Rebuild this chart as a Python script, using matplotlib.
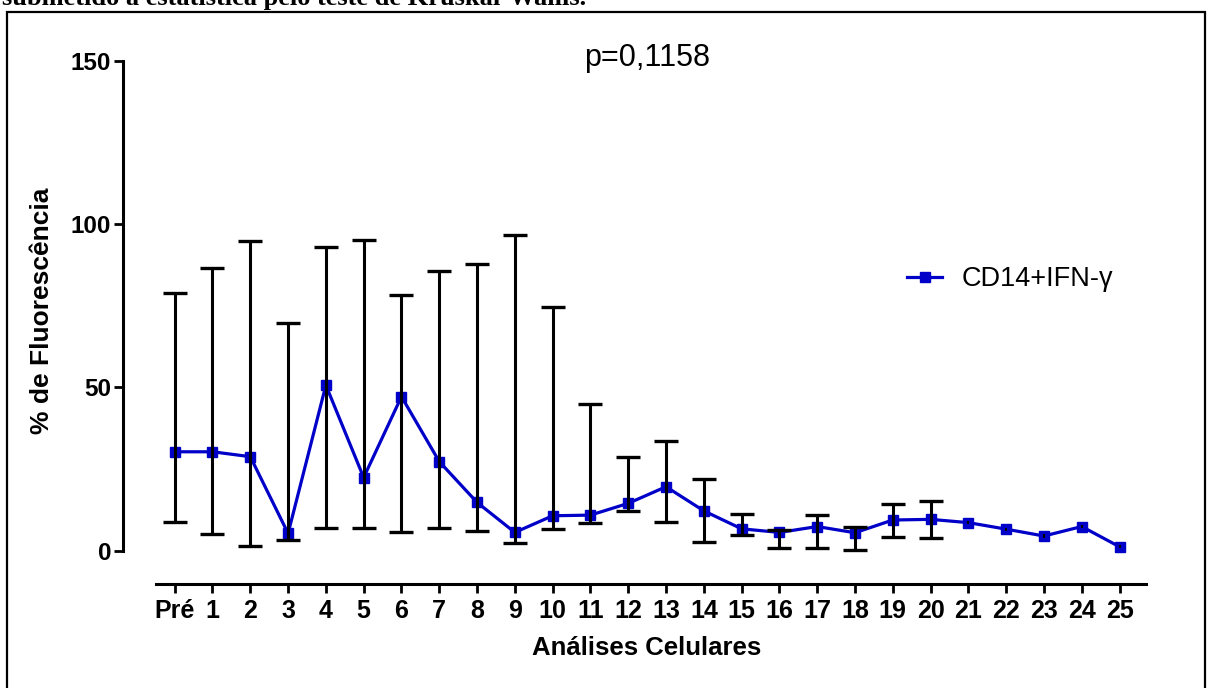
import numpy as np
import matplotlib
matplotlib.use('Agg')
import matplotlib.pyplot as plt
from matplotlib.patches import Rectangle

plt.rcParams['font.family'] = ['Liberation Sans', 'DejaVu Sans']

# dados
labels = ['Pré'] + [str(i) for i in range(1, 26)]
media = [30.3, 30.3, 28.8, 5.3, 50.7, 22.4, 47.2, 27.3, 14.8, 5.6, 10.7, 10.9, 14.5,
         19.6, 12.2, 6.7, 5.6, 7.4, 5.5, 9.4, 9.6, 8.6, 6.6, 4.5, 7.4, 1.2]
superior = [79.0, 86.7, 94.9, 69.8, 93.1, 95.2, 78.3, 85.7, 87.7, 96.8, 74.7, 44.9, 28.8,
            33.6, 21.9, 11.2, 6.4, 10.9, 7.4, 14.3, 15.3, 9.1, 7.1, 5.0, 7.9, 1.7]
inferior = [8.8, 5.2, 1.5, 3.4, 6.9, 7.0, 5.8, 6.9, 6.0, 2.4, 6.6, 8.6, 12.3,
            8.9, 2.7, 4.8, 0.9, 0.7, 0.2, 4.3, 3.8, 8.1, 6.1, 4.0, 6.9, 0.7]
serie = 'CD14+IFN-γ'
p_texto = 'p=0,1158'
legenda_topo = 'submetido à estatística pelo teste de Kruskal-Wallis.'

W, H = 1208, 688
fig = plt.figure(figsize=(W / 100, H / 100), dpi=100)

# eixo posicionado em pixels
x0, x1 = 123, 1146
y_top, y_bot = 61, 584
ax = fig.add_axes([x0 / W, 1 - y_bot / H, (x1 - x0) / W, (y_bot - y_top) / H])

x = np.arange(len(labels))
media = np.array(media)
superior = np.array(superior)
inferior = np.array(inferior)
azul = '#0000C8'

ax.plot(x, media, color=azul, lw=2.3, marker='s', ms=7.5, mec=azul, label=serie, zorder=3)
# barras grandes com cap, as pequenas (21-25) ficam dentro do marcador
big = (superior - inferior) > 2
ax.errorbar(x[big], media[big], yerr=[media[big] - inferior[big], superior[big] - media[big]],
            fmt='none', ecolor='black', elinewidth=2.2, capsize=8.5, capthick=2.4, zorder=4)
ax.errorbar(x[~big], media[~big], yerr=[media[~big] - inferior[~big], superior[~big] - media[~big]],
            fmt='none', ecolor='black', elinewidth=1.5, capsize=0, zorder=4)

ax.set_xlim(-1.368, 25.70)
ax.set_ylim(-10.2, 150)
ax.set_yticks([0, 50, 100, 150])
ax.set_xticks(x)
ax.set_xticklabels(labels)

for s in ['top', 'right']:
    ax.spines[s].set_visible(False)
ax.spines['left'].set_bounds(0, 150)
ax.spines['bottom'].set_bounds(-0.49, 25.70)
ax.spines['left'].set_linewidth(2.2)
ax.spines['bottom'].set_linewidth(2.2)
ax.tick_params(axis='both', width=2, length=6.5, direction='out')
ax.tick_params(axis='y', pad=2, labelsize=17.5)
ax.tick_params(axis='x', pad=4, labelsize=18)
for t in ax.get_xticklabels() + ax.get_yticklabels():
    t.set_fontweight('bold')

ax.set_xlabel('Análises Celulares', fontsize=18.5, fontweight='bold', va='center')
ax.xaxis.set_label_coords((647 - x0) / (x1 - x0), (y_bot - 648) / (y_bot - y_top))
ax.set_ylabel('% de Fluorescência', fontsize=19, fontweight='bold', va='center')
ax.yaxis.set_label_coords((42 - x0) / (x1 - x0), (y_bot - 311) / (y_bot - y_top))

fig.text(647 / W, 1 - 66 / H, p_texto, fontsize=22, ha='center', va='baseline')

ax.legend(loc='center left', bbox_to_anchor=(907 / W, 1 - 279 / H),
          bbox_transform=fig.transFigure, frameon=False, fontsize=19.5,
          handlelength=1.3, handletextpad=0.7, borderpad=0, borderaxespad=0)

# moldura e legenda cortada no topo
fig.patches.append(Rectangle((7 / W, -0.05), (1205 - 7) / W, 1.05 - 12 / H,
                             transform=fig.transFigure, fill=False, lw=1.6,
                             edgecolor='black'))
fig.text(2 / W, 1 - 5 / H, legenda_topo, fontsize=19, fontweight='bold',
         family='Liberation Serif', ha='left', va='baseline')

fig.savefig('out.png', dpi=100)
